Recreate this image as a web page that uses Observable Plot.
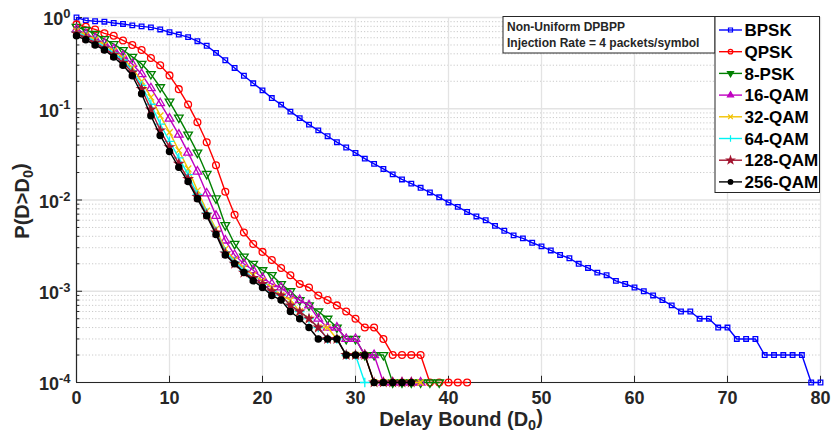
<!DOCTYPE html>
<html><head><meta charset="utf-8">
<script src="https://cdn.jsdelivr.net/npm/d3@7"></script>
<script src="https://cdn.jsdelivr.net/npm/@observablehq/plot@0.6"></script>
<style>
body{margin:0;background:#fff;}
#chart{width:833px;height:437px;}
</style></head><body><div id="chart"></div>
<script>
// ---- data (delay bound D0 = 0,1,2,... ; P(D>D0)) ----
const bpsk = [1.0,0.93,0.91,0.90,0.87,0.85,0.82,0.80,0.78,0.74,
  0.69,0.65,0.61,0.55,0.49,0.41,0.34,0.28,0.23,0.19,
  0.159,0.131,0.111,0.093,0.079,0.067,0.058,0.050,0.043,0.0376,
  0.0328,0.0284,0.0249,0.0219,0.0191,0.0168,0.0151,0.0136,0.0121,0.0107,
  0.0094,0.0084,0.0074,0.0066,0.0060,0.0052,0.0046,0.0041,0.0038,0.0034,
  0.0031,0.0028,0.0025,0.0023,0.0020,0.0018,0.0016,0.0015,0.0013,0.0012,
  0.0011,0.0010,0.0009,0.0008,0.0007,0.0006,0.0006,0.0005,0.0005,0.0004,
  0.0004,0.0003,0.0003,0.0003,0.0002,0.0002,0.0002,0.0002,0.0002,0.0001,0.0001];
const qpsk = [0.84,0.79,0.74,0.67,0.63,0.56,0.50,0.44,0.36,0.30,
  0.232,0.164,0.111,0.071,0.043,0.024,0.0123,0.0069,0.0044,0.0033,
  0.0027,0.0022,0.0018,0.0015,0.0012,0.0011,0.0009,0.0008,0.0007,0.0006,
  0.0005,0.0004,0.0004,0.0003,0.0002,0.0002,0.0002,0.0002,0.0001,0.0001,
  0.0001,0.0001,0.0001];
const psk8 = [0.79,0.73,0.66,0.58,0.51,0.44,0.37,0.31,0.24,0.172,
  0.12,0.08,0.052,0.033,0.0193,0.0104,0.0053,0.0033,0.0024,0.0020,
  0.0017,0.0015,0.0012,0.0010,0.0008,0.0007,0.0006,0.0005,0.0004,0.0003,
  0.0003,0.0002,0.0002,0.0002,0.0001,0.0001,0.0001,0.0001,0.0001,0.0001];
const qam16 = [0.74,0.66,0.59,0.52,0.45,0.38,0.31,0.24,0.168,0.115,
  0.078,0.052,0.033,0.0205,0.0118,0.0067,0.0036,0.0025,0.0020,0.0017,
  0.0014,0.0012,0.0011,0.0009,0.0008,0.0007,0.0005,0.0004,0.0004,0.0003,
  0.0003,0.0002,0.0002,0.0001,0.0001,0.0001,0.0001,0.0001];
const qam32 = [0.71,0.64,0.57,0.50,0.43,0.36,0.28,0.20,0.134,0.084,
  0.055,0.035,0.022,0.0127,0.0076,0.0048,0.0029,0.0022,0.0018,0.0015,
  0.0013,0.0011,0.0009,0.0008,0.0006,0.0005,0.0004,0.0004,0.0003,0.0002,
  0.0002,0.0002,0.0001,0.0001,0.0001,0.0001,0.0001,0.0001];
const qam64 = [0.69,0.62,0.55,0.48,0.41,0.34,0.26,0.18,0.112,0.068,
  0.044,0.029,0.019,0.0115,0.0072,0.0045,0.0027,0.0021,0.0017,0.0014,
  0.0012,0.0010,0.0009,0.0007,0.0006,0.0005,0.0004,0.0003,0.0003,0.0002,
  0.0002,0.0001];
const qam128 = [0.67,0.60,0.53,0.46,0.39,0.32,0.25,0.165,0.098,0.058,
  0.038,0.025,0.017,0.0108,0.0069,0.0044,0.0026,0.0020,0.0016,0.0014,
  0.0012,0.0010,0.0009,0.0007,0.0006,0.0005,0.0004,0.0003,0.0003,0.0002,
  0.0002,0.0002,0.0001,0.0001,0.0001,0.0001,0.0001];
const qam256 = [0.63,0.57,0.50,0.44,0.37,0.30,0.23,0.146,0.084,0.051,
  0.034,0.0228,0.0159,0.0103,0.0067,0.0042,0.0025,0.0020,0.0016,0.0013,
  0.0011,0.0009,0.0008,0.0006,0.0005,0.0004,0.0003,0.0003,0.0003,0.0002,
  0.0002,0.0002,0.0001,0.0001,0.0001,0.0001,0.0001];

const seriesNames = ["BPSK","QPSK","8-PSK","16-QAM","32-QAM","64-QAM","128-QAM","256-QAM"];
const seriesValues = [bpsk,qpsk,psk8,qam16,qam32,qam64,qam128,qam256];
const seriesColors = ["#0000ff","#ff0000","#008000","#c000c0","#f2c200","#00f4f4","#a2142f","#000000"];

const xTicks = [0,10,20,30,40,50,60,70,80];
const yTicks = [1e-4,1e-3,1e-2,1e-1,1];
const yTickLabels = ["10|-4","10|-3","10|-2","10|-1","10|0"];
const annotationLines = ["Non-Uniform DPBPP","Injection Rate = 4 packets/symbol"];
const xLabel = ["Delay Bound (D","0",")"];
const yLabel = ["P(D>D","0",")"];

// ---- symbols ----
const triDown = {draw(ctx, size){const y=-Math.sqrt(size/(Math.sqrt(3)*3)); const s=Math.sqrt(3);
  ctx.moveTo(0,-2*y); ctx.lineTo(-s*y,y); ctx.lineTo(s*y,y); ctx.closePath();}};
const symbols = [d3.symbolSquare, d3.symbolCircle, triDown, d3.symbolTriangle, d3.symbolTimes, d3.symbolPlus, d3.symbolStar, d3.symbolCircle];
const radii = [2.6,3.4,3.2,3.2,3.0,3.2,2.5,3.1];
const filled = [false,false,false,false,false,false,true,true];

const minorY = [];
for (let e=-4;e<0;e++) for (let k=2;k<=9;k++) minorY.push(k*Math.pow(10,e));

const marks = [
  Plot.ruleY(minorY, {stroke:"#c4c4c4", strokeDasharray:"1.2,2", strokeWidth:0.9}),
  Plot.ruleY(yTicks, {stroke:"#e3e3e3", strokeWidth:1.3}),
  Plot.ruleX(xTicks, {stroke:"#e3e3e3", strokeWidth:1.3}),
  Plot.ruleX([0], {stroke:"#262626", strokeWidth:1.2}),
  Plot.ruleY([1e-4], {stroke:"#262626", strokeWidth:1.2}),
  Plot.ruleY(yTicks, {x1:0, x2:0.65, stroke:"#262626"}),
  Plot.ruleY(minorY, {x1:0, x2:0.35, stroke:"#262626"}),
  Plot.ruleX(xTicks, {y1:1e-4, y2:1.17e-4, stroke:"#262626"}),
  Plot.axisX({ticks:xTicks, tickSize:0, tickPadding:9, fontSize:18, fontWeight:"bold", label:null}),
  Plot.axisY({ticks:yTicks, tickSize:0, tickPadding:6, fontSize:18, fontWeight:"bold", dy:2,
     tickFormat:(d)=>yTickLabels[yTicks.indexOf(d)], label:null})
];
seriesValues.forEach((vals,i)=>{
  const data = vals.map((v,j)=>({x:j, y:v}));
  marks.push(Plot.line(data, {x:"x", y:"y", stroke:seriesColors[i], strokeWidth:1.4}));
  marks.push(Plot.dot(data, {x:"x", y:"y", symbol:symbols[i], r:radii[i],
    stroke:seriesColors[i], strokeWidth:1.3, fill: filled[i]?seriesColors[i]:"none"}));
});

const chart = Plot.plot({
  width:833, height:437, marginLeft:76, marginRight:13, marginTop:17, marginBottom:55,
  x:{domain:[0,80]},
  y:{type:"log", domain:[1e-4,1]},
  style:{fontFamily:"'Liberation Sans', Arial, Helvetica, sans-serif", color:"#262626", background:"#fff", overflow:"visible"},
  marks
});
document.getElementById("chart").appendChild(chart);

const svg = d3.select(chart);
// superscripts on y tick labels
svg.selectAll('g[aria-label="y-axis tick label"] text').each(function(){
  const t = d3.select(this); const parts = t.text().split("|");
  t.text(null);
  t.append("tspan").text(parts[0]);
  t.append("tspan").attr("dy","-0.55em").attr("font-size","0.72em").text(parts[1]);
});
const txtFont = "'Liberation Sans', Arial, Helvetica, sans-serif";
// axis labels
function subLabel(g, parts){
  g.append("tspan").text(parts[0]);
  g.append("tspan").attr("dy","0.3em").attr("font-size","0.72em").text(parts[1]);
  g.append("tspan").attr("dy","-0.3em").text(parts[2]);
}
const xl = svg.append("text").attr("x",461).attr("y",426).attr("text-anchor","middle")
  .attr("font-size",20).attr("font-weight","bold").attr("fill","#262626").attr("font-family",txtFont);
subLabel(xl, xLabel);
const yl = svg.append("text").attr("transform","translate(29,201) rotate(-90)").attr("text-anchor","middle")
  .attr("font-size",20).attr("font-weight","bold").attr("fill","#262626").attr("font-family",txtFont);
subLabel(yl, yLabel);

// annotation box
const ann = svg.append("g").attr("text-anchor","start");
ann.append("rect").attr("x",503).attr("y",16.5).attr("width",212).attr("height",36.5)
  .attr("fill","#fff").attr("stroke","#262626").attr("stroke-width",1);
annotationLines.forEach((s,i)=>ann.append("text").attr("x",507).attr("y",31+i*15.5).attr("text-anchor","start")
  .attr("font-size",12).attr("font-weight","bold").attr("fill","#262626").attr("font-family",txtFont).text(s));

// legend
const leg = svg.append("g").attr("text-anchor","start");
leg.append("rect").attr("x",715).attr("y",16.5).attr("width",104.5).attr("height",176)
  .attr("fill","#fff").attr("stroke","#262626").attr("stroke-width",1);
seriesNames.forEach((name,i)=>{
  const cy = 30 + i*21.7;
  leg.append("line").attr("x1",719).attr("x2",742).attr("y1",cy).attr("y2",cy)
    .attr("stroke",seriesColors[i]).attr("stroke-width",1.4);
  leg.append("path").attr("transform",`translate(730.5,${cy})`)
    .attr("d", d3.symbol(symbols[i], 16)())
    .attr("fill", (filled[i]||i===2||i===3)?seriesColors[i]:"none").attr("stroke",seriesColors[i]).attr("stroke-width",1.2);
  leg.append("text").attr("x",744.5).attr("y",cy).attr("dy","0.36em").attr("text-anchor","start")
    .attr("font-size",17).attr("font-weight","bold").attr("fill","#000").attr("font-family",txtFont).text(name);
});
</script>
</body></html>
